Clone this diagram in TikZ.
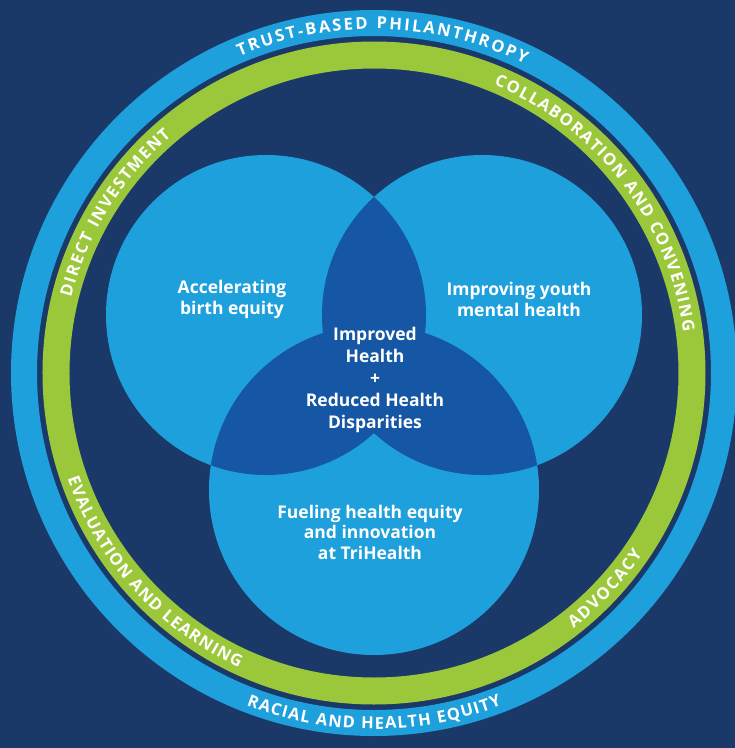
\documentclass[tikz,border=0pt]{standalone}
\usepackage{fontspec}
\setmainfont{Open Sans}
\usetikzlibrary{decorations.text}
\definecolor{navy}{RGB}{27,57,104}
\definecolor{skyblue}{RGB}{30,160,220}
\definecolor{deepblue}{RGB}{21,86,165}
\definecolor{limegreen}{RGB}{155,200,58}
\newcommand\ringfnt{\fontsize{16.5}{16.5}\selectfont\bfseries}
\begin{document}
\begin{tikzpicture}[x=1pt,y=1pt,
  venntext/.style={text=white, font=\fontsize{17.5}{21.5}\selectfont\bfseries, align=center},
  ringlabel/.style={decorate, decoration={text along path, text={|\ringfnt|#1}, text align=fit to path, text color=white}}]
\useasboundingbox (-374,-375) rectangle (361,373);
\fill[navy] (-374,-375) rectangle (361,373);
\coordinate (C) at (0,0);
% rings
\draw[skyblue, line width=26] (C) circle[radius=350];
\draw[limegreen, line width=27] (C) circle[radius=318];
% venn circles
\coordinate (L) at (-108,58);
\coordinate (R) at (108,58);
\coordinate (B) at (0,-117);
\fill[skyblue] (L) circle[radius=160];
\fill[skyblue] (R) circle[radius=160];
\fill[skyblue] (B) circle[radius=165];
\begin{scope}
  \clip (L) circle[radius=160];
  \fill[deepblue] (R) circle[radius=160];
  \fill[deepblue] (B) circle[radius=165];
\end{scope}
\begin{scope}
  \clip (R) circle[radius=160];
  \fill[deepblue] (B) circle[radius=165];
\end{scope}
% venn labels
\node[venntext] (lblL) at (-142,73.5) {Accelerating\\birth equity};
\node[venntext] (lblR) at (145,73.5) {Improving youth\\mental health};
\node[venntext, font=\fontsize{17.5}{22}\selectfont\bfseries] (lblC) at (1,-7) {Improved\\Health\\+\\Reduced Health\\Disparities};
\node[venntext, font=\fontsize{17.5}{20.5}\selectfont\bfseries] (lblB) at (-4,-159) {Fueling health equity\\and innovation\\at TriHealth};
% ring labels
\path[ringlabel={TRUST-BASED PHILANTHROPY}] (113:344) arc[start angle=113, end angle=64, radius=344];
\path[ringlabel={RACIAL AND HEALTH EQUITY}] (249:356) arc[start angle=249, end angle=291, radius=356];
\path[ringlabel={DIRECT INVESTMENT}] (166:312) arc[start angle=166, end angle=130.5, radius=312];
\path[ringlabel={COLLABORATION AND CONVENING}] (67.4:312) arc[start angle=67.4, end angle=7.6, radius=312];
\path[ringlabel={ADVOCACY}] (-52:324) arc[start angle=-52, end angle=-34, radius=324];
\path[ringlabel={EVALUATION AND LEARNING}] (199:324) arc[start angle=199, end angle=245.4, radius=324];
\end{tikzpicture}
\end{document}
